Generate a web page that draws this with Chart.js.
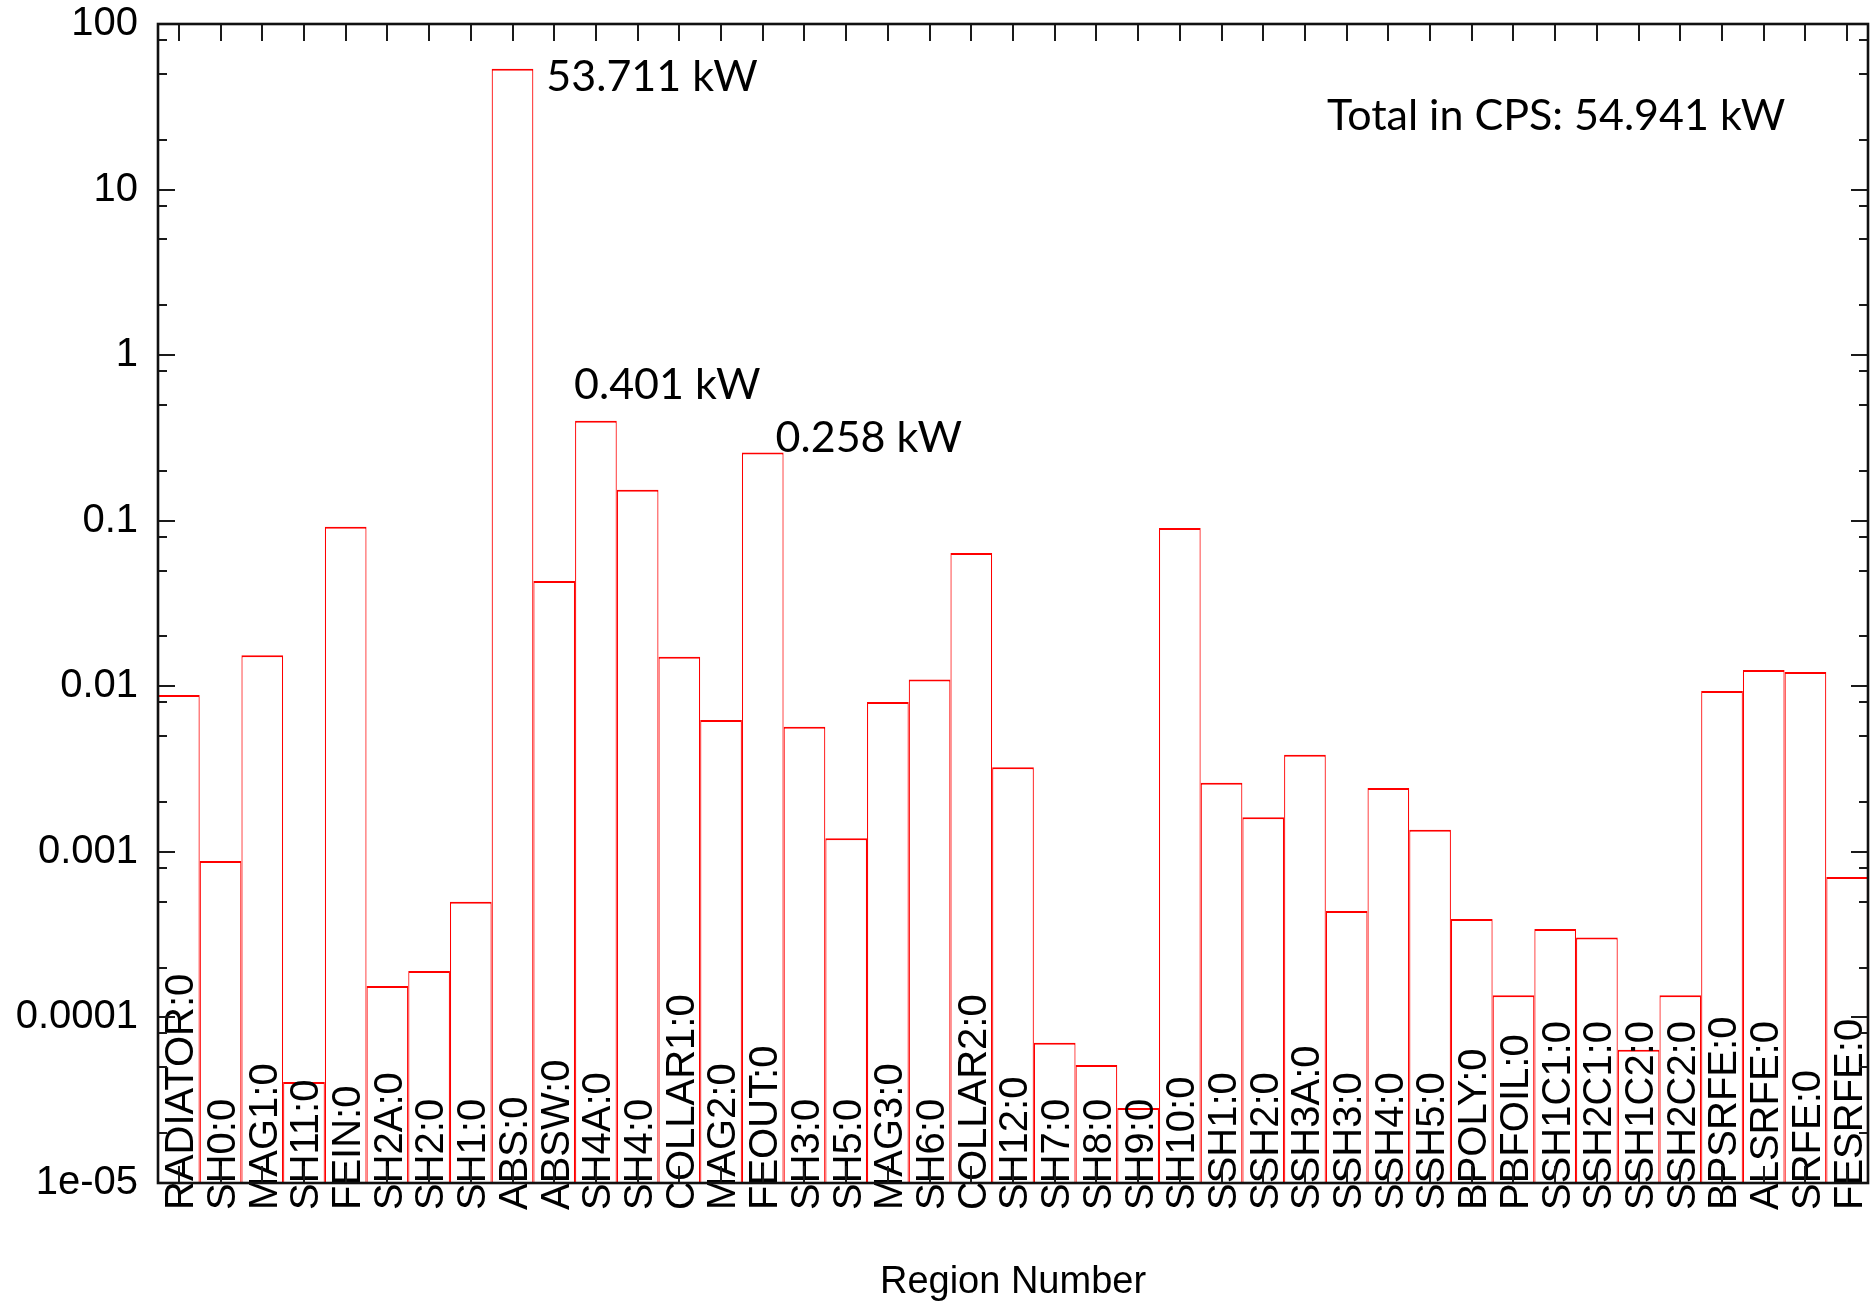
<!DOCTYPE html>
<html><head><meta charset="utf-8">
<script src="https://cdn.jsdelivr.net/npm/chart.js@4"></script>
<style>html,body{margin:0;padding:0;background:#fff}#wrap{width:1872px;height:1303px;position:relative}</style>
</head><body><div id="wrap"><canvas id="c" width="1872" height="1303"></canvas></div>
<script>
// ---- data ----
const categories = ['RADIATOR:0','SH0:0','MAG1:0','SH11:0','FEIN:0','SH2A:0','SH2:0','SH1:0','ABS:0','ABSW:0',
  'SH4A:0','SH4:0','COLLAR1:0','MAG2:0','FEOUT:0','SH3:0','SH5:0','MAG3:0','SH6:0','COLLAR2:0',
  'SH12:0','SH7:0','SH8:0','SH9:0','SH10:0','SSH1:0','SSH2:0','SSH3A:0','SSH3:0','SSH4:0',
  'SSH5:0','BPOLY:0','PBFOIL:0','SSH1C1:0','SSH2C1:0','SSH1C2:0','SSH2C2:0','BPSRFE:0','ALSRFE:0','SRFE:0','FESRFE:0'];
const powerKW = [0.00886,0.00088,0.0154,0.0000407,0.0918,0.000155,0.000191,0.000499,53.711,0.0432,
  0.401,0.154,0.0151,0.00626,0.258,0.00570,0.00121,0.00803,0.0110,0.0638,
  0.00324,0.0000702,0.0000516,0.0000284,0.0905,0.00261,0.00162,0.00386,0.000440,0.00243,
  0.00136,0.000393,0.000136,0.000342,0.000304,0.0000637,0.000136,0.00937,0.01255,0.0122,0.000706];
const yTickValues = [0.00001,0.0001,0.001,0.01,0.1,1,10,100];
const yTickLabels = ['1e-05','0.0001','0.001','0.01','0.1','1','10','100'];
const minorMultipliers = [2,5,8];
const xTitle = 'Region Number';
const annotationIndex = [8,10,14];
const annotationText = ['53.711 kW','0.401 kW','0.258 kW'];
const totalText = 'Total in CPS: 54.941 kW';

// ---- styles (not data) ----
const annotationOffsets = [ {dx:'right', x:13, y:22}, {dx:'left', x:-1, y:-22}, {dx:'right', x:-8, y:-1} ];

const decorPlugin = {
  id: 'decor',
  afterDatasetsDraw(chart) {
    const ctx = chart.ctx, a = chart.chartArea;
    const xs = chart.scales.x, ys = chart.scales.y;
    ctx.save();
    // category labels, rotated, starting below the axis
    const fs = 40;
    ctx.fillStyle = '#000';
    ctx.font = fs + 'px "Liberation Sans", Arial, sans-serif';
    ctx.textAlign = 'left';
    ctx.textBaseline = 'alphabetic';
    categories.forEach((lab, i) => {
      const cx = xs.getPixelForValue(i);
      ctx.save();
      ctx.translate(cx + fs * 0.36, a.bottom + 27);
      ctx.rotate(-Math.PI / 2);
      ctx.fillText(lab, 0, 0);
      ctx.restore();
    });
    // ticks
    ctx.strokeStyle = '#1a1a1a';
    ctx.lineWidth = 2;
    ctx.beginPath();
    categories.forEach((lab, i) => {
      const cx = Math.round(xs.getPixelForValue(i));
      ctx.moveTo(cx, a.top); ctx.lineTo(cx, a.top + 17);
      ctx.moveTo(cx, a.bottom); ctx.lineTo(cx, a.bottom - 17);
    });
    yTickValues.forEach((v) => {
      const y = Math.round(ys.getPixelForValue(v));
      ctx.moveTo(a.left, y); ctx.lineTo(a.left + 17, y);
      ctx.moveTo(a.right, y); ctx.lineTo(a.right - 17, y);
      if (v < 100) {
        minorMultipliers.forEach((m) => {
          const ym = Math.round(ys.getPixelForValue(v * m));
          ctx.moveTo(a.left, ym); ctx.lineTo(a.left + 9, ym);
          ctx.moveTo(a.right, ym); ctx.lineTo(a.right - 9, ym);
        });
      }
    });
    ctx.stroke();
    // frame
    ctx.lineWidth = 2.6;
    ctx.strokeStyle = '#111';
    ctx.strokeRect(a.left, a.top, a.right - a.left, a.bottom - a.top);
    // annotations
    const meta = chart.getDatasetMeta(0);
    ctx.font = '43px Lato, "Open Sans", sans-serif';
    ctx.fillStyle = '#000';
    ctx.textBaseline = 'alphabetic';
    ctx.textAlign = 'left';
    annotationIndex.forEach((idx, k) => {
      const bar = meta.data[idx];
      const off = annotationOffsets[k];
      const edge = off.dx === 'right' ? bar.x + bar.width / 2 : bar.x - bar.width / 2;
      ctx.fillText(annotationText[k], edge + off.x, bar.y + off.y);
    });
    ctx.fillText(totalText, a.right - 541, a.top + 106);
    ctx.restore();
  }
};

function zeroPad(scale) { scale.paddingTop = 0; scale.paddingBottom = 0; scale.paddingLeft = 0; scale.paddingRight = 0; }

new Chart(document.getElementById('c'), {
  type: 'bar',
  data: {
    labels: categories,
    datasets: [{
      data: powerKW,
      backgroundColor: '#ffffff',
      borderColor: 'rgb(255,0,0)',
      borderWidth: {top: 2, left: 1.2, right: 1.2, bottom: 0},
      borderSkipped: false,
      categoryPercentage: 1.0,
      barPercentage: 1.0,
      inflateAmount: 0
    }]
  },
  options: {
    responsive: false,
    animation: false,
    devicePixelRatio: 1,
    layout: {padding: {top: 24, right: 4, left: 0, bottom: 0}},
    plugins: {legend: {display: false}, tooltip: {enabled: false}},
    scales: {
      x: {
        type: 'category',
        grid: {display: false, drawTicks: false},
        border: {display: false},
        ticks: {display: false},
        title: {display: true, text: xTitle, color: '#000', padding: 0,
          font: {family: '"Liberation Sans", Arial, sans-serif', size: 38, lineHeight: 1.1}},
        afterFit(scale) { scale.height = 120; zeroPad(scale); }
      },
      y: {
        type: 'logarithmic',
        min: 0.00001,
        max: 100,
        grid: {display: false, drawTicks: false},
        border: {display: false},
        afterBuildTicks(scale) { scale.ticks = yTickValues.map(v => ({value: v, major: true})); },
        ticks: {
          color: '#000',
          padding: 20,
          autoSkip: false,
          font: {family: '"Liberation Sans", Arial, sans-serif', size: 40},
          callback(value) {
            const k = yTickValues.findIndex(t => Math.abs(Math.log10(t) - Math.log10(value)) < 1e-6);
            return k >= 0 ? yTickLabels[k] : '';
          }
        },
        afterFit(scale) { scale.width = 158; zeroPad(scale); }
      }
    }
  },
  plugins: [decorPlugin]
});
</script>
</body></html>
